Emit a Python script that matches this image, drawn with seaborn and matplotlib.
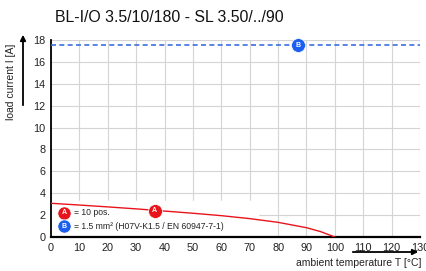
import matplotlib
matplotlib.use("Agg")
import matplotlib.pyplot as plt
import seaborn as sns
import pandas as pd

title = "BL-I/O 3.5/10/180 - SL 3.50/../90"
temp_a = [0, 10, 20, 30, 40, 50, 60, 70, 80, 90, 95, 100]
current_a = [3.08, 2.92, 2.75, 2.57, 2.37, 2.17, 1.95, 1.68, 1.34, 0.85, 0.49, 0.0]
temp_b = [0, 130]
current_b = [17.5, 17.5]
marker_a = (36.5, 2.38)
marker_b = (87, 17.5)
x_ticks = list(range(0, 131, 10))
y_ticks = list(range(0, 19, 2))
legend_a = "= 10 pos."
legend_b = "= 1.5 mm² (H07V-K1.5 / EN 60947-7-1)"

sns.set_style("white")
plt.rcParams['font.family'] = ['Liberation Sans', 'DejaVu Sans']

fig = plt.figure(figsize=(4.26, 2.71), dpi=100)
ax = fig.add_axes([51/426, 1-237/271, 369/426, 197/271])

df_a = pd.DataFrame({"T": temp_a, "I": current_a})
df_b = pd.DataFrame({"T": temp_b, "I": current_b})
sns.lineplot(data=df_a, x="T", y="I", ax=ax, color="#e8141c", lw=1.0, zorder=3)
sns.lineplot(data=df_b, x="T", y="I", ax=ax, color="#3a6fe0", lw=1.2, linestyle=(0, (3, 2)), zorder=3)

ax.set_xlim(0, 130)
ax.set_ylim(0, 18)
ax.set_xticks(x_ticks)
ax.set_yticks(y_ticks)
ax.set_xticklabels([str(t) for t in x_ticks], fontsize=7.8, color="#222222")
ax.set_yticklabels([str(t) for t in y_ticks], fontsize=7.8, color="#222222")
ax.grid(True, color="#d4d4d4", lw=0.8)
ax.set_axisbelow(True)
ax.tick_params(axis='both', length=3, width=0.8, pad=1, colors="#222222")
for s in ["top", "right"]:
    ax.spines[s].set_visible(False)
ax.spines["left"].set_color("black")
ax.spines["left"].set_linewidth(1.3)
ax.spines["bottom"].set_color("black")
ax.spines["bottom"].set_linewidth(1.6)
ax.set_xlabel("")
ax.set_ylabel("")

def badge(x, y, letter, color, size=9):
    ax.plot([x], [y], marker="o", ms=size, color=color, mec="white", mew=0.5, zorder=5, clip_on=False)
    ax.text(x, y, letter, ha="center", va="center", color="white", fontsize=5, fontweight="bold", zorder=6)

badge(marker_a[0], marker_a[1], "A", "#e8141c", size=10)
badge(marker_b[0], marker_b[1], "B", "#1a5ff0", size=10)

# legend box (behind the curve, above the grid)
ax.add_patch(plt.Rectangle((0.3, 0.1), 72.5, 3.2, color="white", zorder=1.5))
badge(4.6, 2.2, "A", "#e8141c", size=9.5)
badge(4.6, 1.0, "B", "#1a5ff0", size=9.5)
ax.text(8.2, 2.2, legend_a, fontsize=6.2, va="center", color="#222222", zorder=4)
ax.text(8.2, 1.0, legend_b, fontsize=6.2, va="center", color="#222222", zorder=4)

fig.text(55/426, 1-18/271, title, fontsize=11.4, va="center", ha="left", color="#111111")
fig.text(422/426, 1-263/271, "ambient temperature T [°C]", fontsize=7.5, ha="right", va="center", color="#222222")
ax.annotate("", xy=(421/426, 1-252/271), xytext=(350/426, 1-252/271), xycoords="figure fraction",
            textcoords="figure fraction", annotation_clip=False,
            arrowprops=dict(arrowstyle="-|>", color="black", lw=1.3, mutation_scale=8))
fig.text(11/426, 1-82/271, "load current I [A]", fontsize=7.5, rotation=90, ha="center", va="center", color="#222222")
ax.annotate("", xy=(23/426, 1-32/271), xytext=(23/426, 1-108/271), xycoords="figure fraction",
            textcoords="figure fraction", annotation_clip=False,
            arrowprops=dict(arrowstyle="-|>", color="black", lw=1.3, mutation_scale=8))

fig.savefig("out.png", dpi=100)
